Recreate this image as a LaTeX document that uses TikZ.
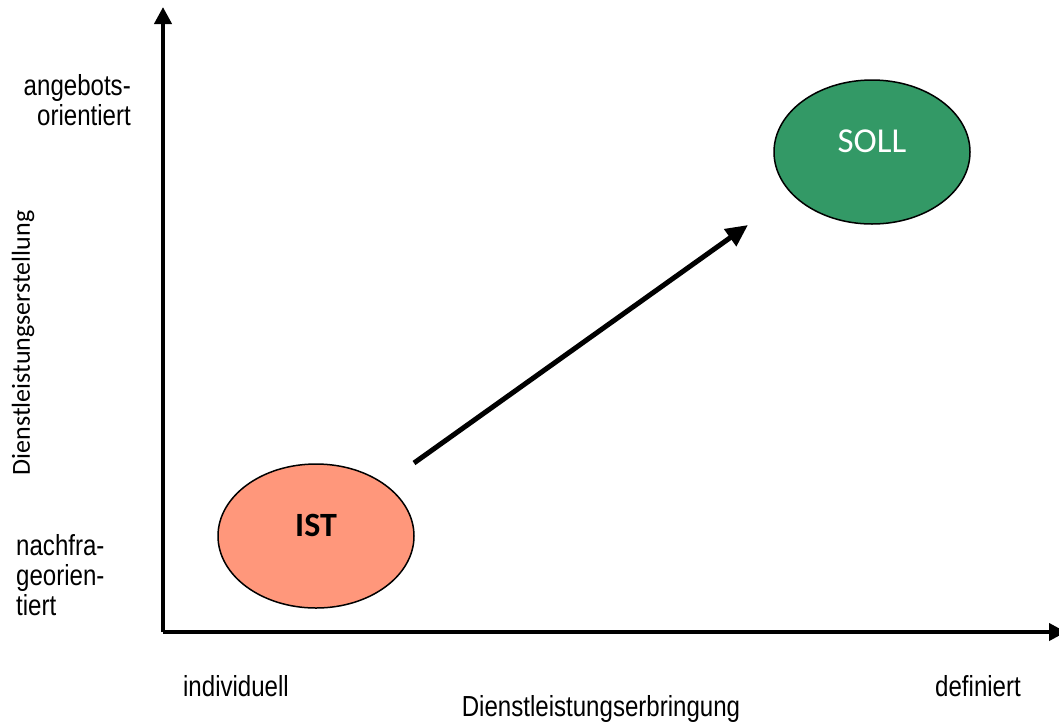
\documentclass[tikz,border=0pt]{standalone}
\usepackage{fontspec}
\setmainfont{Liberation Sans}[FakeStretch=0.83]
\newfontfamily\calfont{Carlito}
\usetikzlibrary{arrows.meta,shapes.geometric}
\definecolor{istcol}{HTML}{FF977B}
\definecolor{sollcol}{HTML}{339966}
\tikzset{
  axis/.style={line width=4pt, -{Triangle[length=17pt,width=17pt]}},
  state/.style={ellipse, draw=black, line width=1.5pt, minimum width=196pt, minimum height=144pt, inner sep=0pt},
  lbl/.style={font=\fontsize{29}{30}\selectfont, inner sep=0pt},
}
\begin{document}
\begin{tikzpicture}[x=1pt,y=-1pt]
\useasboundingbox (0,0) rectangle (1059,724);
\coordinate (O) at (163,632);
\coordinate (Ytop) at (163,7);
\coordinate (Xend) at (1066,632);
\draw[axis] (O) -- (Ytop);
\draw[axis] (O) -- (Xend);
\node[state, fill=istcol] (ist) at (316,536) {};
\node[font=\calfont\bfseries\fontsize{34}{34}\selectfont] (istt) at (316,525) {IST};
\node[state, fill=sollcol] (soll) at (872,152) {};
\node[font=\calfont\fontsize{35}{35}\selectfont, text=white] (sollt) at (872,141) {SOLL};
\coordinate (a1) at (414,463);
\coordinate (a2) at (748,225);
\draw[line width=5pt, -{Triangle[length=22pt,width=20pt]}] (a1) -- (a2);
\node[lbl, align=right, anchor=north east] (ango) at (131,74) {angebots-\\orientiert};
\node[lbl, align=left, anchor=north west] (nach) at (16,534) {nachfra-\\georien-\\tiert};
\node[lbl] (ind) at (236,686) {individuell};
\node[lbl] (def) at (978,686) {definiert};
\node[lbl] (xl) at (601,709) {Dienstleistungserbringung};
\node[font=\calfont\fontsize{26}{26}\selectfont, rotate=90, inner sep=0pt] (yl) at (23,343) {Dienstleistungserstellung};
\end{tikzpicture}
\end{document}
